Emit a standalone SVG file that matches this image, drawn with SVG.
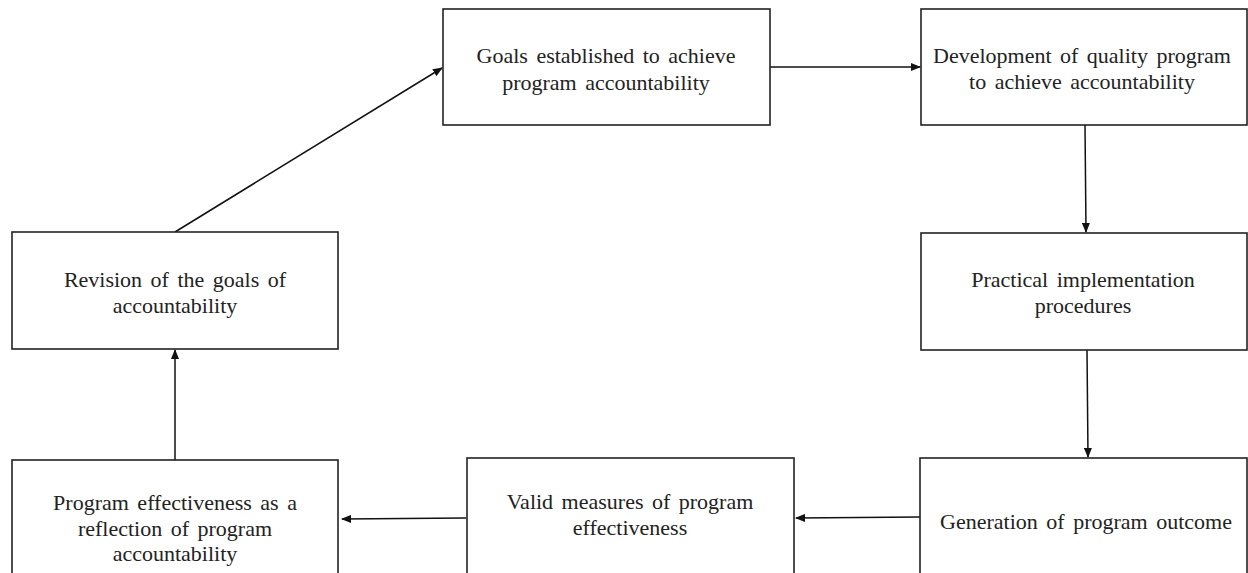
<svg xmlns="http://www.w3.org/2000/svg" width="1248" height="573" viewBox="0 0 1248 573">
<style>
.box{fill:#fff;stroke:#222;stroke-width:1.6}
.t{font-family:"Liberation Serif","Times New Roman",serif;font-size:22px;fill:#222;text-anchor:middle;word-spacing:3px}
.c{stroke:#111;stroke-width:1.5;fill:none;marker-end:url(#ah)}
</style>
<defs>
<marker id="ah" markerWidth="10" markerHeight="8" refX="9" refY="4" orient="auto" markerUnits="userSpaceOnUse">
<path d="M0,0 L10,4 L0,8 z" fill="#111"/>
</marker>
</defs>
<rect width="1248" height="573" fill="#fff"/>
<g id="connectors">
<line class="c" x1="175" y1="232" x2="442" y2="68"/>
<line class="c" x1="770" y1="67" x2="920" y2="67"/>
<line class="c" x1="1085" y1="125" x2="1086" y2="232"/>
<line class="c" x1="1087" y1="350" x2="1088" y2="457"/>
<line class="c" x1="920" y1="517" x2="796" y2="518"/>
<line class="c" x1="466" y1="518" x2="342" y2="519"/>
<line class="c" x1="175" y1="460" x2="175" y2="350"/>
</g>
<g id="n-goals">
<rect class="box" x="443" y="9" width="327" height="116"/>
<text class="t" x="606" y="63">Goals established to achieve</text>
<text class="t" x="606" y="90">program accountability</text>
</g>
<g id="n-development">
<rect class="box" x="921" y="9" width="326" height="116"/>
<text class="t" x="1082" y="63">Development of quality program</text>
<text class="t" x="1082" y="89">to achieve accountability</text>
</g>
<g id="n-practical">
<rect class="box" x="921" y="233" width="326" height="117"/>
<text class="t" x="1083" y="287">Practical implementation</text>
<text class="t" x="1083" y="313">procedures</text>
</g>
<g id="n-generation">
<rect class="box" x="920" y="458" width="327" height="120"/>
<text class="t" x="1086" y="529">Generation of program outcome</text>
</g>
<g id="n-valid">
<rect class="box" x="467" y="458" width="327" height="120"/>
<text class="t" x="630" y="509">Valid measures of program</text>
<text class="t" x="630" y="535">effectiveness</text>
</g>
<g id="n-effectiveness">
<rect class="box" x="12" y="460" width="326" height="120"/>
<text class="t" x="175" y="510">Program effectiveness as a</text>
<text class="t" x="175" y="536">reflection of program</text>
<text class="t" x="175" y="561">accountability</text>
</g>
<g id="n-revision">
<rect class="box" x="12" y="232" width="326" height="117"/>
<text class="t" x="175" y="287">Revision of the goals of</text>
<text class="t" x="175" y="313">accountability</text>
</g>
</svg>
